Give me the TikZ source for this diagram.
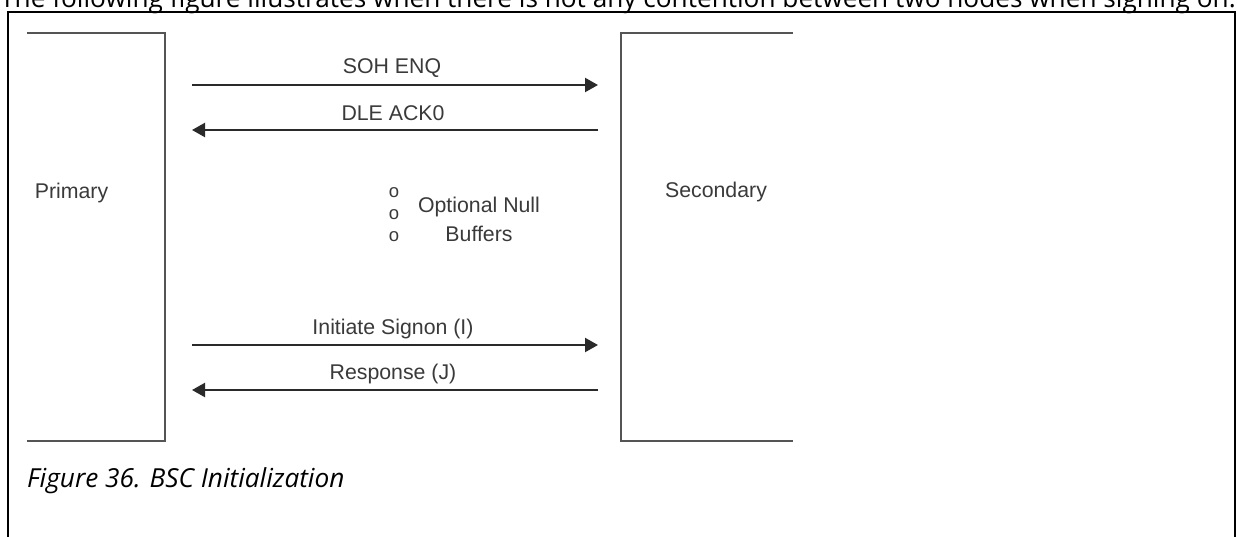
\documentclass[tikz,border=0pt]{standalone}
\usepackage{fontspec}
\setmainfont{Liberation Sans}
\newfontfamily\capfont{Open Sans}
\usetikzlibrary{arrows.meta}
\definecolor{boxgray}{HTML}{555555}
\definecolor{ink}{HTML}{2A2A2A}
\definecolor{txt}{HTML}{3A3A3A}
\tikzset{
  lane/.style={draw=boxgray, line width=2.6pt, line join=miter},
  msg/.style={draw=ink, line width=2.2pt, -{Triangle[length=13pt,width=14pt]}},
  lbl/.style={text=txt, font=\fontsize{21.3}{24}\selectfont, inner sep=0pt},
  dots/.style={text=txt, font=\fontsize{18.5}{20}\selectfont, inner sep=0pt},
  frame/.style={draw=black, line width=2pt},
}
\begin{document}
\begin{tikzpicture}[x=1pt,y=-1pt]
\useasboundingbox (0,0) rectangle (1237,536);
\clip (0,0) rectangle (1237,536);
\fill[white] (0,0) rectangle (1237,536);
% intro sentence (cut off at the top, as in the reference)
\node[anchor=base west, inner sep=0pt, text=black, font=\capfont\fontsize{26.2}{29}\selectfont] (intro) at (0,7)
  {The following figure illustrates when there is not any contention between two nodes when signing on.};
% outer frame
\draw[frame] (8,560) -- (8,12) -- (1235,12) -- (1235,560);
% lanes
\draw[lane] (27,33) -- (165,33) -- (165,441) -- (27,441);
\draw[lane] (793,33) -- (621,33) -- (621,441) -- (793,441);
\node[lbl] (primary) at (71.5,193) {Primary};
\node[lbl] (secondary) at (716,192) {Secondary};
% endpoints
\coordinate (p1) at (192,85);  \coordinate (s1) at (598,85);
\coordinate (p2) at (192,130); \coordinate (s2) at (598,130);
\coordinate (p3) at (192,345); \coordinate (s3) at (598,345);
\coordinate (p4) at (192,390); \coordinate (s4) at (598,390);
\draw[msg] (p1) -- (s1);
\draw[msg] (s2) -- (p2);
\draw[msg] (p3) -- (s3);
\draw[msg] (s4) -- (p4);
\node[lbl] (m1) at (392,68) {SOH ENQ};
\node[lbl] (m2) at (393,113) {DLE ACK0};
\node[lbl] (m3) at (393,329) {Initiate Signon (I)};
\node[lbl] (m4) at (393,374) {Response (J)};
% optional null buffers
\node[dots] (o1) at (394,193) {o};
\node[dots] (o2) at (394,215) {o};
\node[dots] (o3) at (394,237) {o};
\node[lbl] (opt1) at (479,207) {Optional Null};
\node[lbl] (opt2) at (479,234) {Buffers};
% caption
\node[anchor=west, inner sep=0pt, text=black, font=\capfont\itshape\fontsize{26.2}{29}\selectfont] (cap) at (27,481)
  {Figure 36. BSC Initialization};
\end{tikzpicture}
\end{document}
